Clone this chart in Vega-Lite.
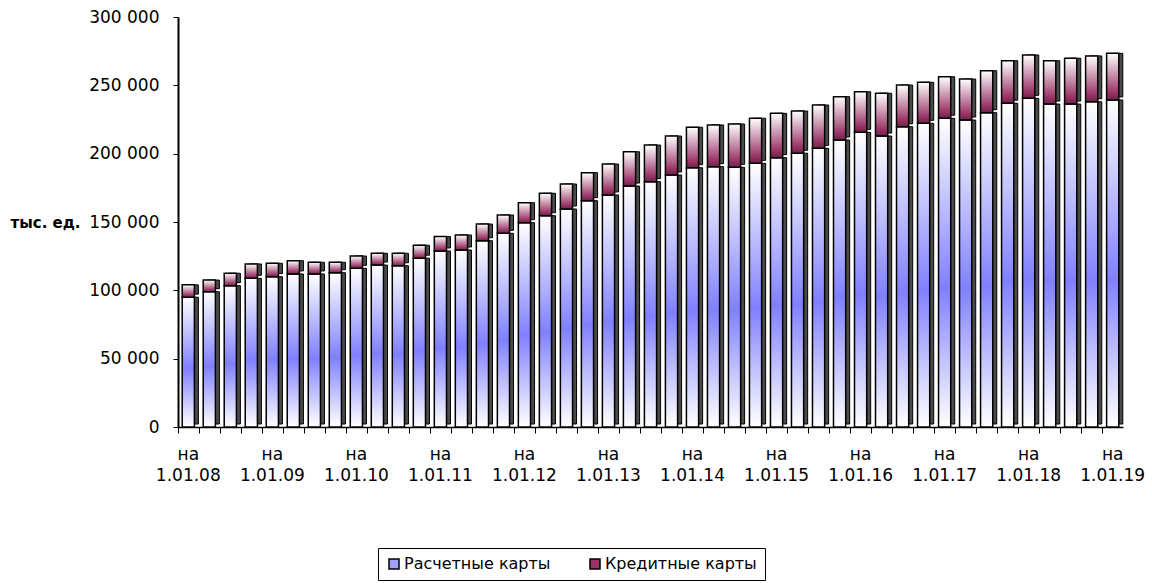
{
  "$schema": "https://vega.github.io/schema/vega-lite/v6.json",
  "width": 945,
  "height": 410,
  "autosize": "none",
  "padding": {"left": 178, "top": 17, "right": 29, "bottom": 156},
  "background": "white",
  "config": {
    "font": "DejaVu Sans",
    "view": {"stroke": null}
  },
  "data": {
    "values": [
      {"date": "1.01.08", "settlement": 95000, "credit": 9000},
      {"date": "1.04.08", "settlement": 99000, "credit": 8500},
      {"date": "1.07.08", "settlement": 103400, "credit": 9100},
      {"date": "1.10.08", "settlement": 108800, "credit": 10500},
      {"date": "1.01.09", "settlement": 110000, "credit": 9800},
      {"date": "1.04.09", "settlement": 112000, "credit": 9700},
      {"date": "1.07.09", "settlement": 112000, "credit": 8500},
      {"date": "1.10.09", "settlement": 112900, "credit": 7600},
      {"date": "1.01.10", "settlement": 116100, "credit": 9000},
      {"date": "1.04.10", "settlement": 118500, "credit": 8600},
      {"date": "1.07.10", "settlement": 118000, "credit": 9100},
      {"date": "1.10.10", "settlement": 123500, "credit": 9500},
      {"date": "1.01.11", "settlement": 128800, "credit": 10500},
      {"date": "1.04.11", "settlement": 129500, "credit": 11000},
      {"date": "1.07.11", "settlement": 136300, "credit": 12200},
      {"date": "1.10.11", "settlement": 141700, "credit": 13400},
      {"date": "1.01.12", "settlement": 149500, "credit": 14600},
      {"date": "1.04.12", "settlement": 154600, "credit": 16400},
      {"date": "1.07.12", "settlement": 159500, "credit": 18300},
      {"date": "1.10.12", "settlement": 165600, "credit": 20500},
      {"date": "1.01.13", "settlement": 169800, "credit": 22600},
      {"date": "1.04.13", "settlement": 176300, "credit": 25100},
      {"date": "1.07.13", "settlement": 179500, "credit": 26800},
      {"date": "1.10.13", "settlement": 184400, "credit": 28500},
      {"date": "1.01.14", "settlement": 189700, "credit": 29600},
      {"date": "1.04.14", "settlement": 190500, "credit": 30500},
      {"date": "1.07.14", "settlement": 190000, "credit": 31700},
      {"date": "1.10.14", "settlement": 192900, "credit": 33000},
      {"date": "1.01.15", "settlement": 197100, "credit": 32400},
      {"date": "1.04.15", "settlement": 200300, "credit": 30900},
      {"date": "1.07.15", "settlement": 203900, "credit": 31700},
      {"date": "1.10.15", "settlement": 210000, "credit": 31700},
      {"date": "1.01.16", "settlement": 215600, "credit": 29700},
      {"date": "1.04.16", "settlement": 212900, "credit": 31300},
      {"date": "1.07.16", "settlement": 219700, "credit": 30500},
      {"date": "1.10.16", "settlement": 222200, "credit": 30000},
      {"date": "1.01.17", "settlement": 225900, "credit": 30400},
      {"date": "1.04.17", "settlement": 224600, "credit": 30000},
      {"date": "1.07.17", "settlement": 230000, "credit": 30700},
      {"date": "1.10.17", "settlement": 236900, "credit": 31100},
      {"date": "1.01.18", "settlement": 240500, "credit": 31700},
      {"date": "1.04.18", "settlement": 236300, "credit": 31700},
      {"date": "1.07.18", "settlement": 236300, "credit": 33500},
      {"date": "1.10.18", "settlement": 238000, "credit": 33500},
      {"date": "1.01.19", "settlement": 239300, "credit": 34100}
    ]
  },
  "transform": [
    {"fold": ["settlement", "credit"], "as": ["type", "value"]},
    {"stack": "value", "groupby": ["date"], "sort": [{"field": "type", "order": "descending"}], "as": ["v0", "v1"]}
  ],
  "encoding": {
    "x": {
      "field": "date",
      "type": "ordinal",
      "sort": null,
      "scale": {"paddingInner": 0.42, "paddingOuter": 0.2},
      "axis": {
        "title": null,
        "labelAngle": 0,
        "bandPosition": -0.3,
        "labelExpr": "slice(datum.value,0,5)=='1.01.' ? ['на', datum.value] : ''",
        "labelFontSize": 17,
        "labelColor": "#000000",
        "labelPadding": 13,
        "labelLineHeight": 21,
        "tickColor": "#000000",
        "tickSize": 6,
        "tickWidth": 1,
        "domainColor": "#000000",
        "domainWidth": 1.5,
        "labelOverlap": false
      }
    },
    "y": {
      "field": "v0",
      "type": "quantitative",
      "scale": {"domain": [0, 300000], "nice": false},
      "axis": {
        "values": [0, 50000, 100000, 150000, 200000, 250000, 300000],
        "labelExpr": "replace(format(datum.value, ','), ',', ' ')",
        "labelFontSize": 17,
        "labelColor": "#000000",
        "labelPadding": 14,
        "tickColor": "#000000",
        "tickSize": 5,
        "domainColor": "#000000",
        "domainWidth": 2,
        "grid": false,
        "title": "тыс. ед.",
        "titleAngle": 0,
        "titleAlign": "left",
        "titleBaseline": "middle",
        "titleX": -168,
        "titleY": 205,
        "titleFontSize": 15,
        "titleFontWeight": "bold",
        "titleColor": "#000000"
      }
    },
    "y2": {"field": "v1"}
  },
  "layer": [
    {
      "mark": {
        "type": "bar",
        "fill": "#4a4a4a",
        "stroke": "#000000",
        "strokeWidth": 1,
        "xOffset": 4,
        "yOffset": -3
      }
    },
    {
      "transform": [{"filter": "datum.type == 'settlement'"}],
      "mark": {
        "type": "bar",
        "stroke": "#000000",
        "strokeWidth": 1.5,
        "fill": {"gradient": "linear", "x1": 0, "y1": 0, "x2": 0, "y2": 1, "stops": [{"offset": 0, "color": "#ffffff"}, {"offset": 0.55, "color": "#8080ff"}, {"offset": 1, "color": "#ffffff"}]}
      }
    },
    {
      "transform": [{"filter": "datum.type == 'credit'"}],
      "mark": {
        "type": "bar",
        "stroke": "#000000",
        "strokeWidth": 1.5,
        "fill": {"gradient": "linear", "x1": 0, "y1": 0, "x2": 0, "y2": 1, "stops": [{"offset": 0, "color": "#ffffff"}, {"offset": 0.85, "color": "#993366"}, {"offset": 1, "color": "#6b2448"}]}
      }
    },
    {
      "mark": {"type": "point", "shape": "square", "filled": true, "opacity": 0},
      "encoding": {
        "y": {"field": "v1", "type": "quantitative"},
        "y2": null,
        "color": {
          "field": "type",
          "type": "nominal",
          "scale": {"domain": ["settlement", "credit"], "range": ["#a0a0ff", "#993366"]},
          "legend": {
            "title": null,
            "orient": "none",
            "legendX": 200,
            "legendY": 531,
            "direction": "horizontal",
            "labelExpr": "datum.value=='settlement' ? 'Расчетные карты' : 'Кредитные карты'",
            "labelFontSize": 16,
            "labelColor": "#000000",
            "labelOffset": 2,
            "symbolType": "square",
            "symbolSize": 100,
            "symbolOpacity": 1,
            "symbolStrokeColor": "#000000",
            "symbolStrokeWidth": 1.5,
            "strokeColor": "#000000",
            "fillColor": "#ffffff",
            "padding": 8,
            "columnPadding": 36
          }
        }
      }
    }
  ]
}
